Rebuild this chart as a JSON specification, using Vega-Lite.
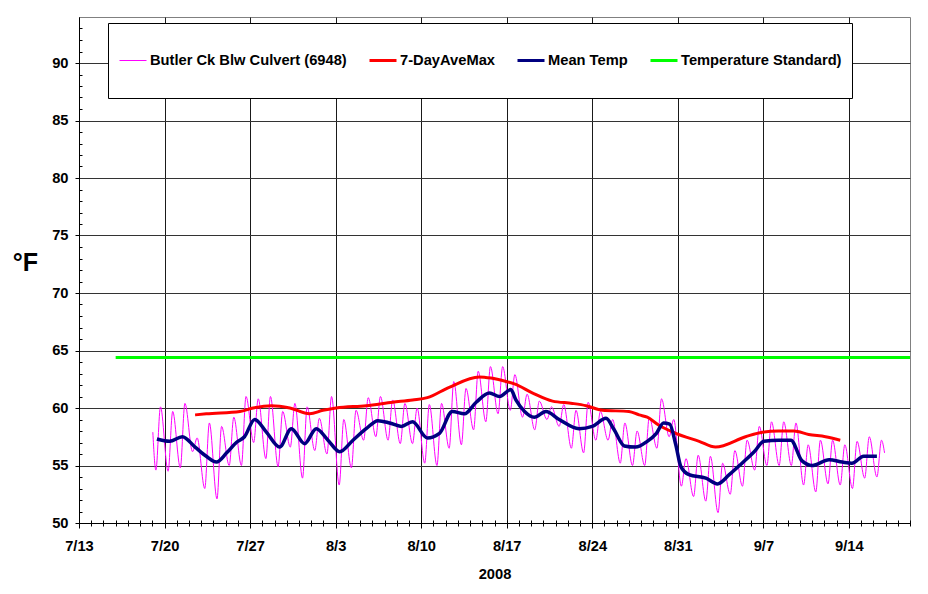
{
  "$schema": "https://vega.github.io/schema/vega-lite/v6.json",
  "width": 831,
  "height": 506,
  "autosize": "none",
  "padding": {"left": 79, "top": 17, "right": 18, "bottom": 71},
  "background": "white",
  "config": {
    "font": "Liberation Sans",
    "view": {"stroke": "#808080", "strokeWidth": 1},
    "axis": {
      "labelFont": "Liberation Sans", "labelFontWeight": "bold", "labelFontSize": 14.7, "labelColor": "#000000",
      "titleFont": "Liberation Sans", "titleFontWeight": "bold", "titleColor": "#000000",
      "domainColor": "#000000", "tickColor": "#000000", "gridOpacity": 1
    }
  },
  "datasets": {
    "std": [
      {"date": "2008-07-16T00:00", "temp": 64.4, "series": "Temperature Standard)"},
      {"date": "2008-09-19T00:00", "temp": 64.4, "series": "Temperature Standard)"}
    ],
    "raw": [
      {"date": "2008-07-19T01:00", "temp": 57.9, "series": "Butler Ck Blw Culvert (6948)"},
      {"date": "2008-07-19T07:00", "temp": 54.6, "series": "Butler Ck Blw Culvert (6948)"},
      {"date": "2008-07-19T16:00", "temp": 60.1, "series": "Butler Ck Blw Culvert (6948)"},
      {"date": "2008-07-20T07:00", "temp": 54.5, "series": "Butler Ck Blw Culvert (6948)"},
      {"date": "2008-07-20T16:00", "temp": 59.7, "series": "Butler Ck Blw Culvert (6948)"},
      {"date": "2008-07-21T07:00", "temp": 54.8, "series": "Butler Ck Blw Culvert (6948)"},
      {"date": "2008-07-21T16:00", "temp": 60.4, "series": "Butler Ck Blw Culvert (6948)"},
      {"date": "2008-07-22T07:00", "temp": 56.2, "series": "Butler Ck Blw Culvert (6948)"},
      {"date": "2008-07-22T16:00", "temp": 57.4, "series": "Butler Ck Blw Culvert (6948)"},
      {"date": "2008-07-23T07:00", "temp": 53.0, "series": "Butler Ck Blw Culvert (6948)"},
      {"date": "2008-07-23T16:00", "temp": 58.7, "series": "Butler Ck Blw Culvert (6948)"},
      {"date": "2008-07-24T07:00", "temp": 52.1, "series": "Butler Ck Blw Culvert (6948)"},
      {"date": "2008-07-24T16:00", "temp": 58.4, "series": "Butler Ck Blw Culvert (6948)"},
      {"date": "2008-07-25T07:00", "temp": 55.0, "series": "Butler Ck Blw Culvert (6948)"},
      {"date": "2008-07-25T16:00", "temp": 59.2, "series": "Butler Ck Blw Culvert (6948)"},
      {"date": "2008-07-26T07:00", "temp": 55.0, "series": "Butler Ck Blw Culvert (6948)"},
      {"date": "2008-07-26T16:00", "temp": 61.0, "series": "Butler Ck Blw Culvert (6948)"},
      {"date": "2008-07-27T07:00", "temp": 57.0, "series": "Butler Ck Blw Culvert (6948)"},
      {"date": "2008-07-27T16:00", "temp": 60.8, "series": "Butler Ck Blw Culvert (6948)"},
      {"date": "2008-07-28T07:00", "temp": 55.6, "series": "Butler Ck Blw Culvert (6948)"},
      {"date": "2008-07-28T16:00", "temp": 61.0, "series": "Butler Ck Blw Culvert (6948)"},
      {"date": "2008-07-29T07:00", "temp": 54.9, "series": "Butler Ck Blw Culvert (6948)"},
      {"date": "2008-07-29T16:00", "temp": 59.7, "series": "Butler Ck Blw Culvert (6948)"},
      {"date": "2008-07-30T07:00", "temp": 56.6, "series": "Butler Ck Blw Culvert (6948)"},
      {"date": "2008-07-30T16:00", "temp": 60.4, "series": "Butler Ck Blw Culvert (6948)"},
      {"date": "2008-07-31T07:00", "temp": 53.9, "series": "Butler Ck Blw Culvert (6948)"},
      {"date": "2008-07-31T16:00", "temp": 60.1, "series": "Butler Ck Blw Culvert (6948)"},
      {"date": "2008-08-01T07:00", "temp": 56.3, "series": "Butler Ck Blw Culvert (6948)"},
      {"date": "2008-08-01T16:00", "temp": 59.1, "series": "Butler Ck Blw Culvert (6948)"},
      {"date": "2008-08-02T07:00", "temp": 56.0, "series": "Butler Ck Blw Culvert (6948)"},
      {"date": "2008-08-02T16:00", "temp": 61.0, "series": "Butler Ck Blw Culvert (6948)"},
      {"date": "2008-08-03T07:00", "temp": 53.3, "series": "Butler Ck Blw Culvert (6948)"},
      {"date": "2008-08-03T16:00", "temp": 59.0, "series": "Butler Ck Blw Culvert (6948)"},
      {"date": "2008-08-04T07:00", "temp": 54.8, "series": "Butler Ck Blw Culvert (6948)"},
      {"date": "2008-08-04T16:00", "temp": 59.8, "series": "Butler Ck Blw Culvert (6948)"},
      {"date": "2008-08-05T07:00", "temp": 57.2, "series": "Butler Ck Blw Culvert (6948)"},
      {"date": "2008-08-05T16:00", "temp": 60.9, "series": "Butler Ck Blw Culvert (6948)"},
      {"date": "2008-08-06T07:00", "temp": 57.5, "series": "Butler Ck Blw Culvert (6948)"},
      {"date": "2008-08-06T16:00", "temp": 61.0, "series": "Butler Ck Blw Culvert (6948)"},
      {"date": "2008-08-07T07:00", "temp": 57.2, "series": "Butler Ck Blw Culvert (6948)"},
      {"date": "2008-08-07T16:00", "temp": 60.7, "series": "Butler Ck Blw Culvert (6948)"},
      {"date": "2008-08-08T07:00", "temp": 56.9, "series": "Butler Ck Blw Culvert (6948)"},
      {"date": "2008-08-08T16:00", "temp": 60.4, "series": "Butler Ck Blw Culvert (6948)"},
      {"date": "2008-08-09T07:00", "temp": 56.9, "series": "Butler Ck Blw Culvert (6948)"},
      {"date": "2008-08-09T16:00", "temp": 60.0, "series": "Butler Ck Blw Culvert (6948)"},
      {"date": "2008-08-10T07:00", "temp": 55.2, "series": "Butler Ck Blw Culvert (6948)"},
      {"date": "2008-08-10T16:00", "temp": 60.3, "series": "Butler Ck Blw Culvert (6948)"},
      {"date": "2008-08-11T07:00", "temp": 55.0, "series": "Butler Ck Blw Culvert (6948)"},
      {"date": "2008-08-11T16:00", "temp": 60.4, "series": "Butler Ck Blw Culvert (6948)"},
      {"date": "2008-08-12T07:00", "temp": 56.5, "series": "Butler Ck Blw Culvert (6948)"},
      {"date": "2008-08-12T16:00", "temp": 62.3, "series": "Butler Ck Blw Culvert (6948)"},
      {"date": "2008-08-13T07:00", "temp": 56.8, "series": "Butler Ck Blw Culvert (6948)"},
      {"date": "2008-08-13T16:00", "temp": 61.7, "series": "Butler Ck Blw Culvert (6948)"},
      {"date": "2008-08-14T07:00", "temp": 58.1, "series": "Butler Ck Blw Culvert (6948)"},
      {"date": "2008-08-14T16:00", "temp": 63.2, "series": "Butler Ck Blw Culvert (6948)"},
      {"date": "2008-08-15T07:00", "temp": 58.8, "series": "Butler Ck Blw Culvert (6948)"},
      {"date": "2008-08-15T16:00", "temp": 63.6, "series": "Butler Ck Blw Culvert (6948)"},
      {"date": "2008-08-16T07:00", "temp": 59.5, "series": "Butler Ck Blw Culvert (6948)"},
      {"date": "2008-08-16T16:00", "temp": 63.6, "series": "Butler Ck Blw Culvert (6948)"},
      {"date": "2008-08-17T07:00", "temp": 59.8, "series": "Butler Ck Blw Culvert (6948)"},
      {"date": "2008-08-17T16:00", "temp": 62.9, "series": "Butler Ck Blw Culvert (6948)"},
      {"date": "2008-08-18T07:00", "temp": 59.2, "series": "Butler Ck Blw Culvert (6948)"},
      {"date": "2008-08-18T16:00", "temp": 61.2, "series": "Butler Ck Blw Culvert (6948)"},
      {"date": "2008-08-19T07:00", "temp": 58.1, "series": "Butler Ck Blw Culvert (6948)"},
      {"date": "2008-08-19T16:00", "temp": 60.6, "series": "Butler Ck Blw Culvert (6948)"},
      {"date": "2008-08-20T07:00", "temp": 59.0, "series": "Butler Ck Blw Culvert (6948)"},
      {"date": "2008-08-20T16:00", "temp": 60.1, "series": "Butler Ck Blw Culvert (6948)"},
      {"date": "2008-08-21T07:00", "temp": 58.4, "series": "Butler Ck Blw Culvert (6948)"},
      {"date": "2008-08-21T16:00", "temp": 60.3, "series": "Butler Ck Blw Culvert (6948)"},
      {"date": "2008-08-22T07:00", "temp": 56.5, "series": "Butler Ck Blw Culvert (6948)"},
      {"date": "2008-08-22T16:00", "temp": 59.8, "series": "Butler Ck Blw Culvert (6948)"},
      {"date": "2008-08-23T07:00", "temp": 56.1, "series": "Butler Ck Blw Culvert (6948)"},
      {"date": "2008-08-23T16:00", "temp": 60.5, "series": "Butler Ck Blw Culvert (6948)"},
      {"date": "2008-08-24T07:00", "temp": 57.2, "series": "Butler Ck Blw Culvert (6948)"},
      {"date": "2008-08-24T16:00", "temp": 59.7, "series": "Butler Ck Blw Culvert (6948)"},
      {"date": "2008-08-25T07:00", "temp": 57.2, "series": "Butler Ck Blw Culvert (6948)"},
      {"date": "2008-08-25T16:00", "temp": 59.0, "series": "Butler Ck Blw Culvert (6948)"},
      {"date": "2008-08-26T07:00", "temp": 55.2, "series": "Butler Ck Blw Culvert (6948)"},
      {"date": "2008-08-26T16:00", "temp": 58.7, "series": "Butler Ck Blw Culvert (6948)"},
      {"date": "2008-08-27T07:00", "temp": 55.0, "series": "Butler Ck Blw Culvert (6948)"},
      {"date": "2008-08-27T16:00", "temp": 58.0, "series": "Butler Ck Blw Culvert (6948)"},
      {"date": "2008-08-28T07:00", "temp": 55.0, "series": "Butler Ck Blw Culvert (6948)"},
      {"date": "2008-08-28T16:00", "temp": 59.2, "series": "Butler Ck Blw Culvert (6948)"},
      {"date": "2008-08-29T07:00", "temp": 56.5, "series": "Butler Ck Blw Culvert (6948)"},
      {"date": "2008-08-29T16:00", "temp": 60.8, "series": "Butler Ck Blw Culvert (6948)"},
      {"date": "2008-08-30T07:00", "temp": 57.5, "series": "Butler Ck Blw Culvert (6948)"},
      {"date": "2008-08-30T16:00", "temp": 59.0, "series": "Butler Ck Blw Culvert (6948)"},
      {"date": "2008-08-31T07:00", "temp": 53.2, "series": "Butler Ck Blw Culvert (6948)"},
      {"date": "2008-08-31T16:00", "temp": 55.6, "series": "Butler Ck Blw Culvert (6948)"},
      {"date": "2008-09-01T07:00", "temp": 52.3, "series": "Butler Ck Blw Culvert (6948)"},
      {"date": "2008-09-01T16:00", "temp": 55.9, "series": "Butler Ck Blw Culvert (6948)"},
      {"date": "2008-09-02T07:00", "temp": 51.9, "series": "Butler Ck Blw Culvert (6948)"},
      {"date": "2008-09-02T16:00", "temp": 55.8, "series": "Butler Ck Blw Culvert (6948)"},
      {"date": "2008-09-03T07:00", "temp": 50.9, "series": "Butler Ck Blw Culvert (6948)"},
      {"date": "2008-09-03T16:00", "temp": 55.2, "series": "Butler Ck Blw Culvert (6948)"},
      {"date": "2008-09-04T07:00", "temp": 52.5, "series": "Butler Ck Blw Culvert (6948)"},
      {"date": "2008-09-04T16:00", "temp": 56.3, "series": "Butler Ck Blw Culvert (6948)"},
      {"date": "2008-09-05T07:00", "temp": 53.2, "series": "Butler Ck Blw Culvert (6948)"},
      {"date": "2008-09-05T16:00", "temp": 57.2, "series": "Butler Ck Blw Culvert (6948)"},
      {"date": "2008-09-06T07:00", "temp": 54.6, "series": "Butler Ck Blw Culvert (6948)"},
      {"date": "2008-09-06T16:00", "temp": 58.4, "series": "Butler Ck Blw Culvert (6948)"},
      {"date": "2008-09-07T07:00", "temp": 55.0, "series": "Butler Ck Blw Culvert (6948)"},
      {"date": "2008-09-07T16:00", "temp": 58.8, "series": "Butler Ck Blw Culvert (6948)"},
      {"date": "2008-09-08T07:00", "temp": 55.0, "series": "Butler Ck Blw Culvert (6948)"},
      {"date": "2008-09-08T16:00", "temp": 58.8, "series": "Butler Ck Blw Culvert (6948)"},
      {"date": "2008-09-09T07:00", "temp": 55.0, "series": "Butler Ck Blw Culvert (6948)"},
      {"date": "2008-09-09T16:00", "temp": 58.7, "series": "Butler Ck Blw Culvert (6948)"},
      {"date": "2008-09-10T07:00", "temp": 53.3, "series": "Butler Ck Blw Culvert (6948)"},
      {"date": "2008-09-10T16:00", "temp": 56.8, "series": "Butler Ck Blw Culvert (6948)"},
      {"date": "2008-09-11T07:00", "temp": 52.7, "series": "Butler Ck Blw Culvert (6948)"},
      {"date": "2008-09-11T16:00", "temp": 57.2, "series": "Butler Ck Blw Culvert (6948)"},
      {"date": "2008-09-12T07:00", "temp": 53.4, "series": "Butler Ck Blw Culvert (6948)"},
      {"date": "2008-09-12T16:00", "temp": 57.2, "series": "Butler Ck Blw Culvert (6948)"},
      {"date": "2008-09-13T07:00", "temp": 53.3, "series": "Butler Ck Blw Culvert (6948)"},
      {"date": "2008-09-13T16:00", "temp": 56.8, "series": "Butler Ck Blw Culvert (6948)"},
      {"date": "2008-09-14T07:00", "temp": 53.0, "series": "Butler Ck Blw Culvert (6948)"},
      {"date": "2008-09-14T16:00", "temp": 57.1, "series": "Butler Ck Blw Culvert (6948)"},
      {"date": "2008-09-15T07:00", "temp": 53.9, "series": "Butler Ck Blw Culvert (6948)"},
      {"date": "2008-09-15T16:00", "temp": 57.5, "series": "Butler Ck Blw Culvert (6948)"},
      {"date": "2008-09-16T07:00", "temp": 54.0, "series": "Butler Ck Blw Culvert (6948)"},
      {"date": "2008-09-16T16:00", "temp": 57.2, "series": "Butler Ck Blw Culvert (6948)"},
      {"date": "2008-09-16T22:00", "temp": 56.1, "series": "Butler Ck Blw Culvert (6948)"}
    ],
    "avemax": [
      {"date": "2008-07-22T12:00", "temp": 59.4, "series": "7-DayAveMax"},
      {"date": "2008-07-23T10:00", "temp": 59.5, "series": "7-DayAveMax"},
      {"date": "2008-07-26T04:00", "temp": 59.7, "series": "7-DayAveMax"},
      {"date": "2008-07-27T06:00", "temp": 60.0, "series": "7-DayAveMax"},
      {"date": "2008-07-28T18:00", "temp": 60.2, "series": "7-DayAveMax"},
      {"date": "2008-07-30T06:00", "temp": 60.0, "series": "7-DayAveMax"},
      {"date": "2008-07-31T21:00", "temp": 59.5, "series": "7-DayAveMax"},
      {"date": "2008-08-01T23:00", "temp": 59.8, "series": "7-DayAveMax"},
      {"date": "2008-08-03T01:00", "temp": 60.0, "series": "7-DayAveMax"},
      {"date": "2008-08-05T12:00", "temp": 60.2, "series": "7-DayAveMax"},
      {"date": "2008-08-07T16:00", "temp": 60.5, "series": "7-DayAveMax"},
      {"date": "2008-08-09T07:00", "temp": 60.7, "series": "7-DayAveMax"},
      {"date": "2008-08-10T12:00", "temp": 60.9, "series": "7-DayAveMax"},
      {"date": "2008-08-12T07:00", "temp": 61.8, "series": "7-DayAveMax"},
      {"date": "2008-08-14T18:00", "temp": 62.7, "series": "7-DayAveMax"},
      {"date": "2008-08-15T17:00", "temp": 62.6, "series": "7-DayAveMax"},
      {"date": "2008-08-16T23:00", "temp": 62.3, "series": "7-DayAveMax"},
      {"date": "2008-08-17T15:00", "temp": 62.1, "series": "7-DayAveMax"},
      {"date": "2008-08-19T03:00", "temp": 61.3, "series": "7-DayAveMax"},
      {"date": "2008-08-20T18:00", "temp": 60.6, "series": "7-DayAveMax"},
      {"date": "2008-08-22T09:00", "temp": 60.4, "series": "7-DayAveMax"},
      {"date": "2008-08-23T12:00", "temp": 60.2, "series": "7-DayAveMax"},
      {"date": "2008-08-24T20:00", "temp": 59.8, "series": "7-DayAveMax"},
      {"date": "2008-08-27T00:00", "temp": 59.7, "series": "7-DayAveMax"},
      {"date": "2008-08-27T20:00", "temp": 59.4, "series": "7-DayAveMax"},
      {"date": "2008-08-28T12:00", "temp": 59.2, "series": "7-DayAveMax"},
      {"date": "2008-08-29T11:00", "temp": 58.5, "series": "7-DayAveMax"},
      {"date": "2008-08-30T20:00", "temp": 57.8, "series": "7-DayAveMax"},
      {"date": "2008-09-01T18:00", "temp": 57.1, "series": "7-DayAveMax"},
      {"date": "2008-09-03T02:00", "temp": 56.6, "series": "7-DayAveMax"},
      {"date": "2008-09-05T13:00", "temp": 57.5, "series": "7-DayAveMax"},
      {"date": "2008-09-06T22:00", "temp": 57.9, "series": "7-DayAveMax"},
      {"date": "2008-09-08T06:00", "temp": 58.0, "series": "7-DayAveMax"},
      {"date": "2008-09-09T12:00", "temp": 58.0, "series": "7-DayAveMax"},
      {"date": "2008-09-10T17:00", "temp": 57.7, "series": "7-DayAveMax"},
      {"date": "2008-09-12T02:00", "temp": 57.5, "series": "7-DayAveMax"},
      {"date": "2008-09-13T07:00", "temp": 57.2, "series": "7-DayAveMax"}
    ],
    "mean": [
      {"date": "2008-07-19T09:00", "temp": 57.3, "series": "Mean Temp"},
      {"date": "2008-07-20T10:00", "temp": 57.1, "series": "Mean Temp"},
      {"date": "2008-07-21T11:00", "temp": 57.5, "series": "Mean Temp"},
      {"date": "2008-07-22T12:00", "temp": 56.6, "series": "Mean Temp"},
      {"date": "2008-07-23T10:00", "temp": 55.8, "series": "Mean Temp"},
      {"date": "2008-07-24T06:00", "temp": 55.3, "series": "Mean Temp"},
      {"date": "2008-07-25T02:00", "temp": 56.1, "series": "Mean Temp"},
      {"date": "2008-07-25T21:00", "temp": 57.0, "series": "Mean Temp"},
      {"date": "2008-07-26T13:00", "temp": 57.5, "series": "Mean Temp"},
      {"date": "2008-07-27T09:00", "temp": 59.0, "series": "Mean Temp"},
      {"date": "2008-07-28T08:00", "temp": 57.9, "series": "Mean Temp"},
      {"date": "2008-07-29T10:00", "temp": 56.6, "series": "Mean Temp"},
      {"date": "2008-07-30T09:00", "temp": 58.2, "series": "Mean Temp"},
      {"date": "2008-07-31T11:00", "temp": 56.9, "series": "Mean Temp"},
      {"date": "2008-08-01T10:00", "temp": 58.2, "series": "Mean Temp"},
      {"date": "2008-08-02T09:00", "temp": 57.2, "series": "Mean Temp"},
      {"date": "2008-08-03T08:00", "temp": 56.2, "series": "Mean Temp"},
      {"date": "2008-08-04T10:00", "temp": 57.2, "series": "Mean Temp"},
      {"date": "2008-08-05T12:00", "temp": 58.2, "series": "Mean Temp"},
      {"date": "2008-08-06T11:00", "temp": 58.9, "series": "Mean Temp"},
      {"date": "2008-08-07T10:00", "temp": 58.7, "series": "Mean Temp"},
      {"date": "2008-08-08T09:00", "temp": 58.4, "series": "Mean Temp"},
      {"date": "2008-08-09T07:00", "temp": 58.8, "series": "Mean Temp"},
      {"date": "2008-08-10T12:00", "temp": 57.4, "series": "Mean Temp"},
      {"date": "2008-08-11T12:00", "temp": 57.8, "series": "Mean Temp"},
      {"date": "2008-08-12T13:00", "temp": 59.7, "series": "Mean Temp"},
      {"date": "2008-08-13T13:00", "temp": 59.5, "series": "Mean Temp"},
      {"date": "2008-08-14T12:00", "temp": 60.5, "series": "Mean Temp"},
      {"date": "2008-08-15T14:00", "temp": 61.3, "series": "Mean Temp"},
      {"date": "2008-08-16T10:00", "temp": 61.0, "series": "Mean Temp"},
      {"date": "2008-08-17T08:00", "temp": 61.6, "series": "Mean Temp"},
      {"date": "2008-08-17T18:00", "temp": 60.7, "series": "Mean Temp"},
      {"date": "2008-08-18T11:00", "temp": 59.7, "series": "Mean Temp"},
      {"date": "2008-08-19T06:00", "temp": 59.2, "series": "Mean Temp"},
      {"date": "2008-08-20T05:00", "temp": 59.7, "series": "Mean Temp"},
      {"date": "2008-08-21T07:00", "temp": 59.0, "series": "Mean Temp"},
      {"date": "2008-08-22T22:00", "temp": 58.2, "series": "Mean Temp"},
      {"date": "2008-08-24T00:00", "temp": 58.4, "series": "Mean Temp"},
      {"date": "2008-08-25T03:00", "temp": 59.1, "series": "Mean Temp"},
      {"date": "2008-08-25T19:00", "temp": 58.1, "series": "Mean Temp"},
      {"date": "2008-08-26T15:00", "temp": 56.7, "series": "Mean Temp"},
      {"date": "2008-08-27T13:00", "temp": 56.6, "series": "Mean Temp"},
      {"date": "2008-08-28T12:00", "temp": 57.1, "series": "Mean Temp"},
      {"date": "2008-08-29T06:00", "temp": 57.8, "series": "Mean Temp"},
      {"date": "2008-08-29T20:00", "temp": 58.7, "series": "Mean Temp"},
      {"date": "2008-08-30T08:00", "temp": 58.6, "series": "Mean Temp"},
      {"date": "2008-08-30T20:00", "temp": 56.8, "series": "Mean Temp"},
      {"date": "2008-08-31T06:00", "temp": 54.9, "series": "Mean Temp"},
      {"date": "2008-08-31T22:00", "temp": 54.2, "series": "Mean Temp"},
      {"date": "2008-09-02T07:00", "temp": 53.9, "series": "Mean Temp"},
      {"date": "2008-09-03T06:00", "temp": 53.4, "series": "Mean Temp"},
      {"date": "2008-09-04T05:00", "temp": 54.2, "series": "Mean Temp"},
      {"date": "2008-09-05T06:00", "temp": 55.2, "series": "Mean Temp"},
      {"date": "2008-09-06T06:00", "temp": 56.2, "series": "Mean Temp"},
      {"date": "2008-09-07T01:00", "temp": 57.1, "series": "Mean Temp"},
      {"date": "2008-09-08T06:00", "temp": 57.2, "series": "Mean Temp"},
      {"date": "2008-09-09T06:00", "temp": 57.2, "series": "Mean Temp"},
      {"date": "2008-09-10T04:00", "temp": 55.4, "series": "Mean Temp"},
      {"date": "2008-09-11T00:00", "temp": 55.0, "series": "Mean Temp"},
      {"date": "2008-09-12T09:00", "temp": 55.5, "series": "Mean Temp"},
      {"date": "2008-09-13T11:00", "temp": 55.3, "series": "Mean Temp"},
      {"date": "2008-09-14T06:00", "temp": 55.2, "series": "Mean Temp"},
      {"date": "2008-09-15T05:00", "temp": 55.8, "series": "Mean Temp"},
      {"date": "2008-09-16T07:00", "temp": 55.8, "series": "Mean Temp"}
    ]
  },
  "layer": [
    {
      "data": {"name": "std"},
      "mark": {"type": "line", "clip": true, "strokeWidth": 3},
      "encoding": {
        "x": {
          "field": "date", "type": "temporal",
          "scale": {"domain": [{"year": 2008, "month": 7, "date": 13}, {"year": 2008, "month": 9, "date": 19}], "nice": false},
          "axis": {
            "orient": "bottom",
            "values": [
              {"year": 2008, "month": 7, "date": 13}, {"year": 2008, "month": 7, "date": 20},
              {"year": 2008, "month": 7, "date": 27}, {"year": 2008, "month": 8, "date": 3},
              {"year": 2008, "month": 8, "date": 10}, {"year": 2008, "month": 8, "date": 17},
              {"year": 2008, "month": 8, "date": 24}, {"year": 2008, "month": 8, "date": 31},
              {"year": 2008, "month": 9, "date": 7}, {"year": 2008, "month": 9, "date": 14}
            ],
            "format": "%-m/%-d",
            "grid": true, "gridColor": "#1a1a1a", "gridWidth": 1,
            "tickSize": 5, "labelPadding": 10, "labelFlush": false,
            "title": "2008", "titleFontSize": 14.7, "titleY": 55, "titleBaseline": "alphabetic"
          }
        },
        "y": {
          "field": "temp", "type": "quantitative",
          "scale": {"domain": [50, 94], "nice": false, "zero": false},
          "axis": {
            "orient": "left",
            "values": [50, 55, 60, 65, 70, 75, 80, 85, 90],
            "grid": true, "gridColor": "#333333", "gridWidth": 1,
            "tickSize": 4, "labelPadding": 7,
            "title": "°F", "titleAngle": 0, "titleFontSize": 25, "titleX": -54, "titleY": 253,
            "titleAlign": "center", "titleBaseline": "alphabetic"
          }
        },
        "color": {
          "field": "series", "type": "nominal",
          "scale": {
            "domain": ["Butler Ck Blw Culvert (6948)", "7-DayAveMax", "Mean Temp", "Temperature Standard)"],
            "range": ["#ff00ff", "#ff0000", "#000080", "#00ff00"]
          },
          "legend": {
            "title": null, "orient": "none", "legendX": 29, "legendY": 6, "direction": "horizontal",
            "fillColor": "#ffffff", "strokeColor": "#000000", "padding": 10, "clipHeight": 55,
            "symbolType": "stroke", "symbolSize": 729, "labelFont": "Liberation Sans", "labelFontWeight": "bold",
            "labelFontSize": 14.7, "labelColor": "#000000", "labelOffset": 2, "columnPadding": 21, "labelLimit": 400,
            "encode": {
              "symbols": {
                "update": {
                  "strokeWidth": {"signal": "(datum.value === 'Butler Ck Blw Culvert (6948)' ? 1 : 3)"}
                }
              }
            }
          }
        }
      }
    },
    {
      "data": {"name": "raw"},
      "mark": {"type": "line", "interpolate": "monotone", "strokeWidth": 1},
      "encoding": {
        "x": {
          "field": "date", "type": "temporal",
          "axis": {
            "orient": "bottom", "tickCount": {"interval": "day", "step": 1},
            "labels": false, "grid": false, "domain": false, "tickSize": 6, "offset": -3, "title": null, "zindex": 1
          }
        },
        "y": {
          "field": "temp", "type": "quantitative",
          "axis": {
            "orient": "left",
            "values": [51,52,53,54,56,57,58,59,61,62,63,64,66,67,68,69,71,72,73,74,76,77,78,79,81,82,83,84,86,87,88,89,91,92,93],
            "labels": false, "grid": false, "domain": false, "tickSize": 3, "offset": -3, "title": null, "zindex": 1
          }
        },
        "color": {"field": "series", "type": "nominal"}
      }
    },
    {
      "data": {"name": "avemax"},
      "mark": {"type": "line", "interpolate": "monotone", "strokeWidth": 3},
      "encoding": {
        "x": {"field": "date", "type": "temporal", "axis": null},
        "y": {"field": "temp", "type": "quantitative", "axis": null},
        "color": {"field": "series", "type": "nominal"}
      }
    },
    {
      "data": {"name": "mean"},
      "mark": {"type": "line", "interpolate": "monotone", "strokeWidth": 3.5},
      "encoding": {
        "x": {"field": "date", "type": "temporal", "axis": null},
        "y": {"field": "temp", "type": "quantitative", "axis": null},
        "color": {"field": "series", "type": "nominal"}
      }
    }
  ],
  "resolve": {"axis": {"x": "independent", "y": "independent"}}
}
